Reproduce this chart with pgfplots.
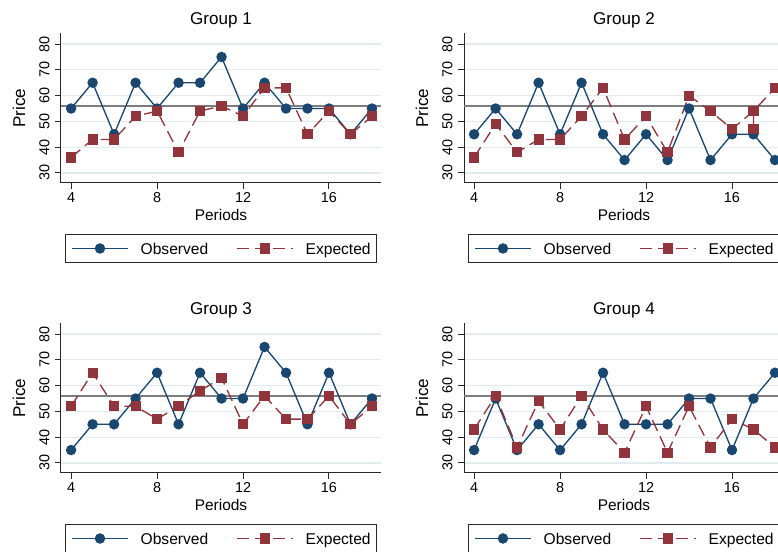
\documentclass[border=0pt]{standalone}
\usepackage{pgfplots}
\pgfplotsset{compat=1.18}
\usepackage{fontspec}
\setmainfont{Liberation Sans}
\definecolor{snavy}{RGB}{26,71,111}
\definecolor{smaroon}{RGB}{144,53,59}
\definecolor{sgrid}{RGB}{226,236,238}
\definecolor{sref}{RGB}{125,125,125}
\definecolor{saxis}{RGB}{40,40,40}

\pgfplotsset{
  grp/.style={
    scale only axis, width=240pt, height=112.5pt,
    xmin=3.53, xmax=18.42, ymin=26.1, ymax=84.3,
    axis x line*=bottom, axis y line*=left,
    axis line style={saxis, line width=0.75pt, -},
    xtick={4,8,12,16}, ytick={30,40,50,60,70,80},
    tick align=outside, major tick length=4.5pt,
    tick style={saxis, line width=0.75pt},
    ymajorgrids, grid style={sgrid, line width=0.9pt},
    /pgf/number format/assume math mode=true,
    ticklabel style={font=\fontsize{10.8}{12}\selectfont},
    yticklabel style={rotate=90, anchor=south, inner sep=4pt},
    xticklabel style={anchor=north, inner sep=2.5pt},
    xlabel={Periods}, ylabel={Price},
    every axis x label/.style={at={(rel axis cs:0.5,0)}, anchor=center, yshift=-23.7pt, font=\fontsize{11.6}{13}\selectfont},
    every axis y label/.style={at={(rel axis cs:0,0.5)}, xshift=-31.5pt, rotate=90, anchor=center, font=\fontsize{12.8}{14}\selectfont},
    every axis title/.style={at={(rel axis cs:0.5,1)}, anchor=center, yshift=9.5pt, font=\fontsize{12.8}{14}\selectfont},
    legend columns=2,
    legend style={at={(rel axis cs:0.5,0)}, anchor=north, yshift=-38.25pt,
      draw=saxis, line width=0.75pt, inner xsep=4.5pt, inner ysep=4pt,
      font=\fontsize{11.7}{14}\selectfont,
      nodes={inner sep=0pt, text depth=0pt, minimum height=13pt},
      /tikz/every odd column/.append style={column sep=9pt},
      /tikz/every even column/.append style={column sep=21pt}},
    legend image code/.code={\draw[mark repeat=2, mark phase=2, #1] plot coordinates {(0pt,0pt) (21pt,0pt) (42pt,0pt)};},
    obs/.style={snavy, line width=1pt, mark=*, mark size=3.4pt, mark options={solid, fill=snavy, draw=snavy}},
    exp/.style={smaroon, line width=1pt, dash pattern=on 9pt off 4.5pt, mark=square*, mark size=3.3pt, mark options={solid, fill=smaroon, draw=smaroon}},
    ref/.style={sref, line width=1pt, forget plot},
  }
}

\begin{document}
\begin{tikzpicture}
\useasboundingbox (0,0) rectangle (583.5pt,414pt);
\clip (0,0) rectangle (583.5pt,414pt);

% Group 1
\begin{axis}[grp, at={(45.75pt,276.75pt)}, anchor=south west, title={Group 1}]
\addplot[ref] coordinates {(3.53,56) (18.42,56)};
\addplot[obs] coordinates {(4,55)(5,65)(6,45)(7,65)(8,55)(9,65)(10,65)(11,75)(12,55)(13,65)(14,55)(15,55)(16,55)(17,45)(18,55)};
\addplot[exp] coordinates {(4,36)(5,43)(6,43)(7,52)(8,54)(9,38)(10,54)(11,56)(12,52)(13,63)(14,63)(15,45)(16,54)(17,45)(18,52)};
\legend{Observed, Expected}
\end{axis}

% Group 2
\begin{axis}[grp, at={(348pt,276.75pt)}, anchor=south west, title={Group 2}]
\addplot[ref] coordinates {(3.53,56) (18.42,56)};
\addplot[obs] coordinates {(4,45)(5,55)(6,45)(7,65)(8,45)(9,65)(10,45)(11,35)(12,45)(13,35)(14,55)(15,35)(16,45)(17,45)(18,35)};
\addplot[exp] coordinates {(4,36)(5,49)(6,38)(7,43)(8,43)(9,52)(10,63)(11,43)(12,52)(13,38)(14,60)(15,54)(16,47)(17,54)(17,47)(17,54)(18,63)};
\legend{Observed, Expected}
\end{axis}

% Group 3
\begin{axis}[grp, at={(45.75pt,59.25pt)}, anchor=south west, title={Group 3}]
\addplot[ref] coordinates {(3.53,56) (18.42,56)};
\addplot[obs] coordinates {(4,35)(5,45)(6,45)(7,55)(8,65)(9,45)(10,65)(11,55)(12,55)(13,75)(14,65)(15,45)(16,65)(17,45)(18,55)};
\addplot[exp] coordinates {(4,52)(5,65)(6,52)(7,52)(8,47)(9,52)(10,58)(11,63)(12,45)(13,56)(14,47)(15,47)(16,56)(17,45)(18,52)};
\legend{Observed, Expected}
\end{axis}

% Group 4
\begin{axis}[grp, at={(348pt,59.25pt)}, anchor=south west, title={Group 4}]
\addplot[ref] coordinates {(3.53,56) (18.42,56)};
\addplot[obs] coordinates {(4,35)(5,55)(6,35)(7,45)(8,35)(9,45)(10,65)(11,45)(12,45)(13,45)(14,55)(15,55)(16,35)(17,55)(18,65)};
\addplot[exp] coordinates {(4,43)(5,56)(6,36)(7,54)(8,43)(9,56)(10,43)(11,34)(12,52)(13,34)(14,52)(15,36)(16,47)(17,43)(18,36)};
\legend{Observed, Expected}
\end{axis}
\end{tikzpicture}
\end{document}
